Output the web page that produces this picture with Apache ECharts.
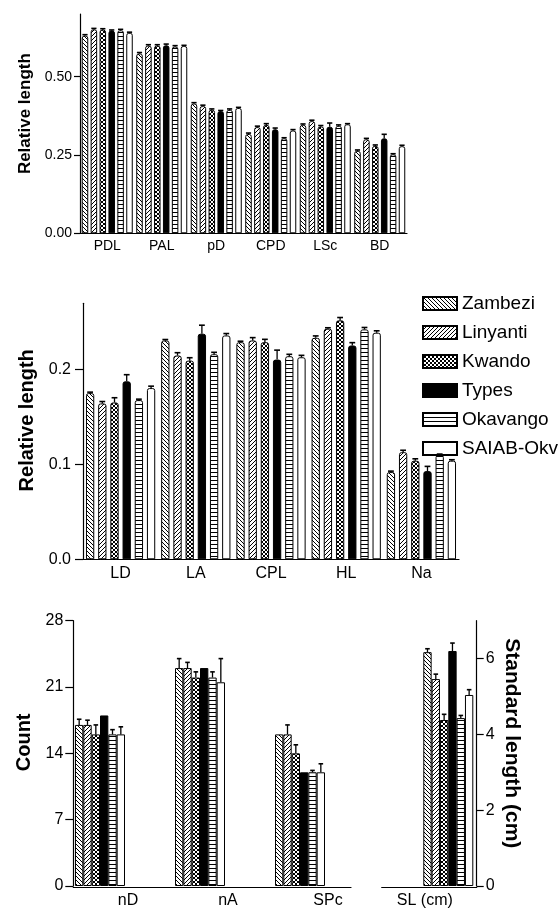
<!DOCTYPE html>
<html><head><meta charset="utf-8">
<script src="https://cdn.jsdelivr.net/npm/echarts@6/dist/echarts.min.js"></script>
<style>html,body{margin:0;padding:0;background:#fff}#c{width:559px;height:909px}</style>
</head><body><div id="c"></div>
<script>
// ---------- DATA ----------
const groups = ['Zambezi', 'Linyanti', 'Kwando', 'Types', 'Okavango', 'SAIAB-Okv'];

// Top panel
const topCats = ['PDL', 'PAL', 'pD', 'CPD', 'LSc', 'BD'];
const topZambezi  = [0.631, 0.574, 0.414, 0.317, 0.346, 0.263];
const topLinyanti = [0.651, 0.599, 0.406, 0.339, 0.358, 0.300];
const topKwando   = [0.650, 0.599, 0.394, 0.346, 0.341, 0.279];
const topTypes    = [0.647, 0.600, 0.390, 0.332, 0.340, 0.303];
const topOkavango = [0.648, 0.596, 0.394, 0.303, 0.343, 0.252];
const topSaiab    = [0.640, 0.598, 0.400, 0.328, 0.348, 0.278];
const topErr = [
  [0.003, 0.003, 0.003, 0.003, 0.003, 0.003],
  [0.003, 0.003, 0.003, 0.003, 0.003, 0.003],
  [0.003, 0.003, 0.003, 0.004, 0.003, 0.003],
  [0.002, 0.004, 0.002, 0.004, 0.012, 0.013],
  [0.003, 0.003, 0.003, 0.002, 0.003, 0.002],
  [0.002, 0.002, 0.002, 0.003, 0.002, 0.003]
];
const topTicks = [0, 0.25, 0.5];

// Middle panel
const midCats = ['LD', 'LA', 'CPL', 'HL', 'Na'];
const midZambezi  = [0.1753, 0.2308, 0.2290, 0.2336, 0.092];
const midLinyanti = [0.1644, 0.2149, 0.2308, 0.2432, 0.113];
const midKwando   = [0.1654, 0.2096, 0.2290, 0.2520, 0.104];
const midTypes    = [0.1877, 0.2379, 0.2106, 0.2255, 0.093];
const midOkavango = [0.1679, 0.2163, 0.2142, 0.2425, 0.110];
const midSaiab    = [0.1806, 0.2361, 0.2131, 0.2390, 0.104];
const midErr = [
  [0.001, 0.001, 0.001, 0.002, 0.001],
  [0.002, 0.003, 0.003, 0.001, 0.002],
  [0.005, 0.003, 0.003, 0.003, 0.002],
  [0.007, 0.009, 0.010, 0.003, 0.005],
  [0.001, 0.002, 0.002, 0.002, 0.001],
  [0.002, 0.002, 0.002, 0.002, 0.001]
];
const midTicks = [0, 0.1, 0.2];

// Bottom panel: counts
const cntCats = ['nD', 'nA', 'SPc'];
const cntZambezi  = [17, 23, 16];
const cntLinyanti = [17, 23, 16];
const cntKwando   = [16, 22, 14];
const cntTypes    = [18, 23, 12];
const cntOkavango = [16, 22, 12];
const cntSaiab    = [16, 21.5, 12];
const cntErr = [
  [0.6, 1.0, 0],
  [0.5, 0.6, 1.0],
  [1.0, 0.6, 0.9],
  [0, 0, 0],
  [0.5, 0.6, 0.2],
  [0.8, 2.5, 0.9]
];
const cntTicks = [0, 7, 14, 21, 28];

// Bottom panel: standard length
const slCats = ['SL (cm)'];
const slMeans = [6.17, 5.46, 4.38, 6.20, 4.43, 5.04];
const slErrs  = [0.09, 0.13, 0.15, 0.21, 0.07, 0.14];
const slTicks = [0, 2, 4, 6];

// ---------- PATTERNS ----------
function pat(kind) {
  const s = 4;
  const c = document.createElement('canvas');
  c.width = s; c.height = s;
  const x = c.getContext('2d');
  x.fillStyle = '#fff'; x.fillRect(0, 0, s, s);
  x.fillStyle = '#000';
  for (let i = 0; i < s; i++) {
    if (kind === 'back') x.fillRect(i, i, 1, 1);
    if (kind === 'fwd') x.fillRect(s - 1 - i, i, 1, 1);
    if (kind === 'cross') { x.fillRect(i, i, 1, 1); x.fillRect(s - 1 - i, i, 1, 1); }
  }
  if (kind === 'horiz') x.fillRect(0, 0, s, 1);
  return { image: c, repeat: 'repeat' };
}
const fills = [pat('back'), pat('fwd'), pat('cross'), '#000', pat('horiz'), '#fff'];

// ---------- HELPERS ----------
const FONT = 'Liberation Sans, Arial, sans-serif';
function bars(names, rows, xi, yi, cg, gap, radius) {
  return rows.map((row, g) => ({
    type: 'bar', name: names[g], data: row, xAxisIndex: xi, yAxisIndex: yi,
    barCategoryGap: cg, barGap: gap, animation: false, silent: true,
    itemStyle: { color: fills[g], borderColor: '#000', borderWidth: 1, borderRadius: radius }
  }));
}
function errs(rows, errRows, xi, yi, cg, gap, capFrac) {
  const data = [];
  rows.forEach((row, g) => row.forEach((v, c) => {
    if (errRows[g][c] > 0) data.push([c, v, v + errRows[g][c], g]);
  }));
  const cgf = parseFloat(cg) / 100, gf = parseFloat(gap) / 100;
  return {
    type: 'custom', xAxisIndex: xi, yAxisIndex: yi, data, z: 5, silent: true, animation: false,
    renderItem(params, api) {
      const c = api.value(0), g = api.value(3);
      const p0 = api.coord([c, api.value(1)]);
      const p1 = api.coord([c, api.value(2)]);
      const band = api.size([1, 0])[0];
      const n = 6;
      const bw = band * (1 - cgf) / (n + (n - 1) * gf);
      const total = n * bw + (n - 1) * bw * gf;
      const cx = p0[0] - total / 2 + g * bw * (1 + gf) + bw / 2;
      const cw = bw * capFrac;
      return { type: 'group', children: [
        { type: 'line', shape: { x1: cx, y1: p0[1], x2: cx, y2: p1[1] }, style: { stroke: '#000', lineWidth: 1.3 } },
        { type: 'line', shape: { x1: cx - cw / 2, y1: p1[1], x2: cx + cw / 2, y2: p1[1] }, style: { stroke: '#000', lineWidth: 1.6 } }
      ] };
    }
  };
}
function yAxis(gi, min, max, ticks, dec, opts) {
  return Object.assign({
    type: 'value', gridIndex: gi, min, max, interval: ticks[1] - ticks[0],
    splitLine: { show: false },
    axisLine: { show: true, lineStyle: { color: '#000', width: 1.2 } },
    axisTick: { show: true, length: 6, customValues: ticks, lineStyle: { color: '#000', width: 1.2 } },
    axisLabel: { customValues: ticks, color: '#000', fontSize: 14, fontFamily: FONT, margin: 8,
      formatter: v => ticks.some(t => Math.abs(t - v) < 1e-9) ? v.toFixed(dec) : '' }
  }, opts);
}

const topRows = [topZambezi, topLinyanti, topKwando, topTypes, topOkavango, topSaiab];
const midRows = [midZambezi, midLinyanti, midKwando, midTypes, midOkavango, midSaiab];
const cntRows = [cntZambezi, cntLinyanti, cntKwando, cntTypes, cntOkavango, cntSaiab];
const slRows = slMeans.map(v => [v]);
const slErrRows = slErrs.map(v => [v]);

const bTop = 620.7, bH = 266.6;

const option = {
  backgroundColor: '#fff',
  textStyle: { fontFamily: FONT, color: '#000' },
  animation: false,
  legend: {
    orient: 'vertical', left: 417, top: 289, itemWidth: 34, itemHeight: 13, itemGap: 10,
    icon: 'rect', selectedMode: false, data: groups,
    textStyle: { fontSize: 19, color: '#000', fontFamily: FONT }
  },
  grid: [
    { left: 80, top: 14, width: 327, height: 219.3 },
    { left: 83, top: 303.3, width: 376, height: 256 },
    { left: 50, top: bTop, width: 300, height: bH },
    { left: 73.3, top: bTop, width: 277.7, height: bH },
    { left: 398.3, top: bTop, width: 100, height: bH },
    { left: 381.7, top: bTop, width: 95, height: bH }
  ],
  xAxis: [
    { type: 'category', gridIndex: 0, data: topCats, axisTick: { show: false },
      axisLine: { lineStyle: { color: '#000', width: 1.2 } },
      axisLabel: { color: '#000', fontSize: 14, margin: 6, fontFamily: FONT } },
    { type: 'category', gridIndex: 1, data: midCats, axisTick: { show: false },
      axisLine: { lineStyle: { color: '#000', width: 1.2 } },
      axisLabel: { color: '#000', fontSize: 16, margin: 6, fontFamily: FONT } },
    { type: 'category', gridIndex: 2, data: cntCats, axisTick: { show: false }, axisLine: { show: false },
      axisLabel: { color: '#000', fontSize: 16, margin: 7, fontFamily: FONT, formatter: v => '{a|' + v + '}',
        rich: { a: { fontSize: 16, fontFamily: FONT, color: '#000', padding: [0, 0, 0, 56] } } } },
    { type: 'category', gridIndex: 3, data: [''], axisTick: { show: false }, axisLabel: { show: false },
      axisLine: { lineStyle: { color: '#000', width: 1.2 } } },
    { type: 'category', gridIndex: 4, data: slCats, axisTick: { show: false }, axisLine: { show: false },
      axisLabel: { color: '#000', fontSize: 16, margin: 7, fontFamily: FONT, formatter: v => '{a|' + v + '}',
        rich: { a: { fontSize: 16, fontFamily: FONT, color: '#000', padding: [0, 47, 0, 0] } } } },
    { type: 'category', gridIndex: 5, data: [''], axisTick: { show: false }, axisLabel: { show: false },
      axisLine: { lineStyle: { color: '#000', width: 1.2 } } }
  ],
  yAxis: [
    yAxis(0, 0, 0.7, topTicks, 2, {
      name: 'Relative length', nameLocation: 'middle', nameGap: 42,
      nameTextStyle: { fontWeight: 'bold', fontSize: 17, fontFamily: FONT, color: '#000', padding: [0, 0, 0, 20] } }),
    yAxis(1, 0, 0.27, midTicks, 1, {
      axisTick: { show: true, length: 8, customValues: midTicks, lineStyle: { color: '#000', width: 1.2 } },
      axisLabel: { customValues: midTicks, color: '#000', fontSize: 16, fontFamily: FONT, margin: 12,
        formatter: v => v.toFixed(1) },
      name: 'Relative length', nameLocation: 'middle', nameGap: 46,
      nameTextStyle: { fontWeight: 'bold', fontSize: 20, fontFamily: FONT, color: '#000', padding: [0, 0, 0, 22] } }),
    yAxis(2, 0, 28, cntTicks, 0, {
      offset: -23.3,
      axisTick: { show: true, length: 8, customValues: cntTicks, lineStyle: { color: '#000', width: 1.2 } },
      axisLabel: { customValues: cntTicks, color: '#000', fontSize: 16, fontFamily: FONT, margin: 10,
        formatter: v => String(v) },
      name: 'Count', nameLocation: 'middle', nameGap: 33,
      nameTextStyle: { fontWeight: 'bold', fontSize: 20, fontFamily: FONT, color: '#000', padding: [0, 0, 0, 22] } }),
    { type: 'value', gridIndex: 3, show: false, min: 0, max: 1 },
    yAxis(4, 0, 7, slTicks, 0, {
      position: 'right', offset: -21.6,
      axisTick: { show: true, length: 7, customValues: slTicks, lineStyle: { color: '#000', width: 1.2 } },
      axisLabel: { customValues: slTicks, color: '#000', fontSize: 16, fontFamily: FONT, margin: 9,
        formatter: v => String(v) },
      name: 'Standard length (cm)', nameLocation: 'middle', nameRotate: -90, nameGap: 25,
      nameTextStyle: { fontWeight: 'bold', fontSize: 21, fontFamily: FONT, color: '#000', padding: [0, 20, 0, 0] } }),
    { type: 'value', gridIndex: 5, show: false, min: 0, max: 1 }
  ],
  series: [].concat(
    bars(groups, topRows, 0, 0, '6.4%', '37%', [2, 2, 0, 0]),
    [errs(topRows, topErr, 0, 0, '6.4%', '37%', 0.8)],
    bars(groups, midRows, 1, 1, '7.9%', '47%', [2, 2, 0, 0]),
    [errs(midRows, midErr, 1, 1, '7.9%', '47%', 0.7)],
    bars(groups, cntRows, 2, 2, '50%', '0%', 0),
    [errs(cntRows, cntErr, 2, 2, '50%', '0%', 0.55)],
    bars(groups, slRows, 4, 4, '50%', '0%', 0),
    [errs(slRows, slErrRows, 4, 4, '50%', '0%', 0.55)]
  )
};
const chart = echarts.init(document.getElementById('c'), null, { renderer: 'canvas' });
chart.setOption(option);
</script></body></html>
